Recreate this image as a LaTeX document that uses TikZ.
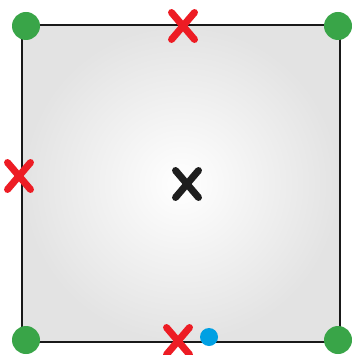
\documentclass[tikz,border=0pt]{standalone}
\usetikzlibrary{shapes.misc}
\definecolor{dotgreen}{RGB}{57,165,72}
\definecolor{xred}{RGB}{237,28,36}
\definecolor{dotblue}{RGB}{0,160,227}
\definecolor{xblack}{RGB}{30,30,30}
\begin{document}
\begin{tikzpicture}[x=1pt,y=-1pt,
  corner/.style={circle,fill=dotgreen,minimum size=28pt,inner sep=0pt},
  bluedot/.style={circle,fill=dotblue,minimum size=18pt,inner sep=0pt},
  redx/.style={cross out,draw=xred,line width=7pt,line cap=round,minimum width=16pt,minimum height=20pt,inner sep=0pt},
  blackx/.style={cross out,draw=xblack,line width=7pt,line cap=round,minimum width=16pt,minimum height=20pt,inner sep=0pt}]
\useasboundingbox (0,0) rectangle (351,355);
\fill[white] (0,0) rectangle (351,355);
\shade[inner color=white,outer color=black!11] (22,25) rectangle (340,342);
\draw[line width=2.5pt,black!90] (22,25) rectangle (340,342);
\node[corner] (tl) at (26,26) {};
\node[corner] (tr) at (338,26) {};
\node[corner] (bl) at (26,340) {};
\node[corner] (br) at (338,340) {};
\node[redx] (xtop) at (183,26) {};
\node[redx] (xleft) at (19,176) {};
\node[redx] (xbottom) at (178,341) {};
\node[blackx] (xcenter) at (187,184) {};
\node[bluedot] (blue) at (209,337) {};
\end{tikzpicture}
\end{document}
